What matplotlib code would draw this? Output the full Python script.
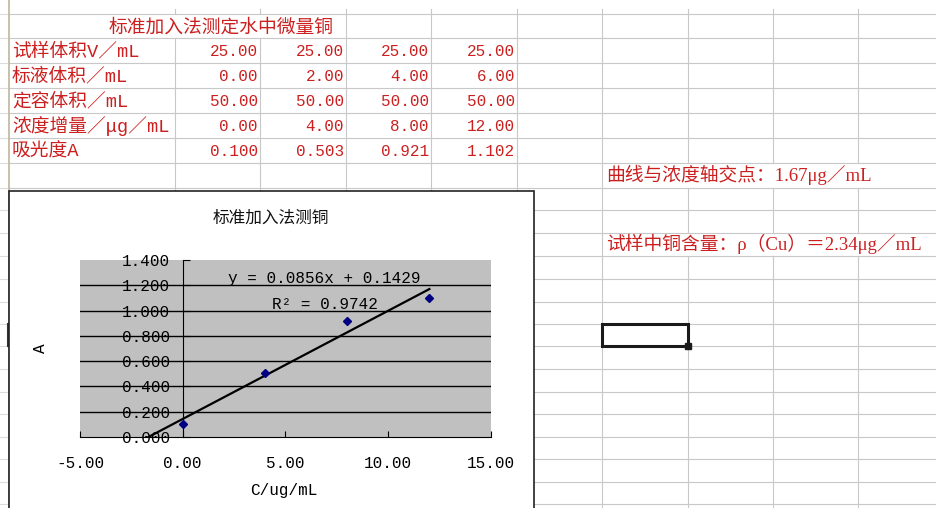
import numpy as np
import matplotlib.pyplot as plt
from matplotlib.patches import Rectangle

plt.rcParams['font.family'] = ['Liberation Mono', 'Noto Sans CJK SC', 'DejaVu Sans']

# table data
table_title = "标准加入法测定水中微量铜"
row_labels = ["试样体积V／mL", "标液体积／mL", "定容体积／mL", "浓度增量／μg／mL", "吸光度A"]
sample_vol = [25.00, 25.00, 25.00, 25.00]
std_vol = [0.00, 2.00, 4.00, 6.00]
final_vol = [50.00, 50.00, 50.00, 50.00]
conc_add = [0.00, 4.00, 8.00, 12.00]
absorbance = [0.100, 0.503, 0.921, 1.102]
row_decimals = [2, 2, 2, 2, 3]

# notes on the right
note_intercept = "曲线与浓度轴交点：1.67μg／mL"
note_result = "试样中铜含量：ρ（Cu）＝2.34μg／mL"

# chart text / ticks
chart_title = "标准加入法测铜"
x_label = "C/ug/mL"
y_label = "A"
x_ticks = [-5, 0, 5, 10, 15]
y_ticks = [0.0, 0.2, 0.4, 0.6, 0.8, 1.0, 1.2, 1.4]

W, H = 937, 508
red = '#cc2020'
cjk = ['Noto Sans CJK SC', 'DejaVu Sans']

# sheet layout (pixels)
col_edges = [9, 175, 260, 346, 431, 517, 602, 688, 773, 858, 944]
row_edges = [14, 38, 63, 88, 113, 138, 163, 188, 210, 233, 256, 279, 302,
             324, 346, 369, 392, 414, 437, 459, 482, 504]
# where overflowing text hides the vertical gridline
gaps = {175: [(14, 38)], 260: [(14, 38)],
        688: [(163, 188), (233, 256)], 773: [(163, 188), (233, 256)],
        858: [(163, 188), (233, 256)]}

fig = plt.figure(figsize=(W / 100, H / 100), dpi=100)
fig.patch.set_facecolor('white')
bg = fig.add_axes([0, 0, 1, 1])
bg.set_xlim(0, W)
bg.set_ylim(H, 0)
bg.axis('off')

grid_c = '#c8c8c8'
for y in row_edges:
    bg.plot([9, W], [y, y], color=grid_c, lw=0.8)
for x in col_edges[1:]:
    pts = [9]
    for a, b in gaps.get(x, []):
        pts += [a, b]
    pts.append(H)
    for a, b in zip(pts[::2], pts[1::2]):
        bg.plot([x, x], [a, b], color=grid_c, lw=0.8)

# row header edge
bg.plot([9, 9], [0, H], color='#bdb59c', lw=1.2)
for y in row_edges:
    bg.plot([0, 7], [y, y], color='#dcdcdc', lw=0.8)
bg.plot([8, 8], [324, 346], color='#333333', lw=1.5)

# table
bg.text(221, 27, table_title, ha='center', va='center', fontsize=13.5,
        color=red, family=cjk)
table_rows = [sample_vol, std_vol, final_vol, conc_add, absorbance]
for i, (lab, vals, dec) in enumerate(zip(row_labels, table_rows, row_decimals)):
    yc = (row_edges[i + 1] + row_edges[i + 2]) / 2 + 1
    bg.text(12, yc, lab, ha='left', va='center', fontsize=13.5, color=red)
    for j, v in enumerate(vals):
        bg.text(col_edges[j + 2] - 2, yc, f"{v:.{dec}f}", ha='right',
                va='center', fontsize=11.5, color=red)

# notes
note_font = ['Liberation Serif', 'Noto Sans CJK SC', 'DejaVu Sans']
bg.text(606, 175, note_intercept, ha='left', va='center', fontsize=13.5,
        color=red, family=note_font)
bg.text(606, 244, note_result, ha='left', va='center', fontsize=13.5,
        color=red, family=note_font)

# selected cell
bg.add_patch(Rectangle((602, 324), 86, 22, fill=False, lw=2.2,
                       edgecolor='#1a1a1a', zorder=4))
bg.add_patch(Rectangle((685, 343), 6, 6, color='#1a1a1a', zorder=4))

# chart area
bg.add_patch(Rectangle((9, 191), 525, 330, facecolor='white',
                       edgecolor='#222222', lw=1.2, zorder=3))
fig.text(271 / W, 1 - 218 / H, chart_title, ha='center', va='center',
         fontsize=12, family=cjk, color='#111111')

# plot area
ax = fig.add_axes([80 / W, 1 - 437 / H, 411 / W, 177 / H])
ax.set_facecolor('#c0c0c0')
ax.set_xlim(-5, 15)
ax.set_ylim(0, 1.4)
ax.spines['top'].set_visible(False)
ax.spines['right'].set_visible(False)
ax.spines['left'].set_position(('data', 0))
ax.spines['left'].set_color('black')
ax.spines['bottom'].set_color('black')
for y in y_ticks[1:-1]:
    ax.axhline(y, color='black', lw=1, zorder=1)

ax.set_xticks(x_ticks)
ax.set_xticklabels([f"{v:.2f}" for v in x_ticks])
ax.set_yticks(y_ticks)
ax.set_yticklabels([f"{v:.3f}" for v in y_ticks])
ax.tick_params(axis='x', direction='in', length=4, pad=14, labelsize=11.5)
ax.tick_params(axis='y', direction='in', length=5, pad=9, labelsize=11.5)

# data points and linear trendline
ax.plot(conc_add, absorbance, 'D', color='#000080', ms=4.5, zorder=4,
        clip_on=False)
slope, intercept = np.polyfit(conc_add, absorbance, 1)
pred = np.polyval([slope, intercept], conc_add)
y_arr = np.array(absorbance)
r2 = 1 - np.sum((y_arr - pred) ** 2) / np.sum((y_arr - y_arr.mean()) ** 2)
x0 = -intercept / slope
xs = np.array([x0, max(conc_add)])
ax.plot(xs, slope * xs + intercept, color='black', lw=1.6, zorder=3)

ax.text(0.594, 0.893, f"y = {slope:.4f}x + {intercept:.4f}",
        transform=ax.transAxes, ha='center', va='center', fontsize=11.5)
ax.text(0.596, 0.746, f"R² = {r2:.4f}", transform=ax.transAxes,
        ha='center', va='center', fontsize=11.5)

ax.set_xlabel(x_label, fontsize=11.5)
ax.xaxis.set_label_coords(0.496, -0.30)
ax.xaxis.label.set_va('center')
ax.set_ylabel(y_label, fontsize=11.5)
ax.yaxis.set_label_coords(-0.095, 0.5)
ax.yaxis.label.set_va('center')

fig.savefig('out.png', dpi=100)
